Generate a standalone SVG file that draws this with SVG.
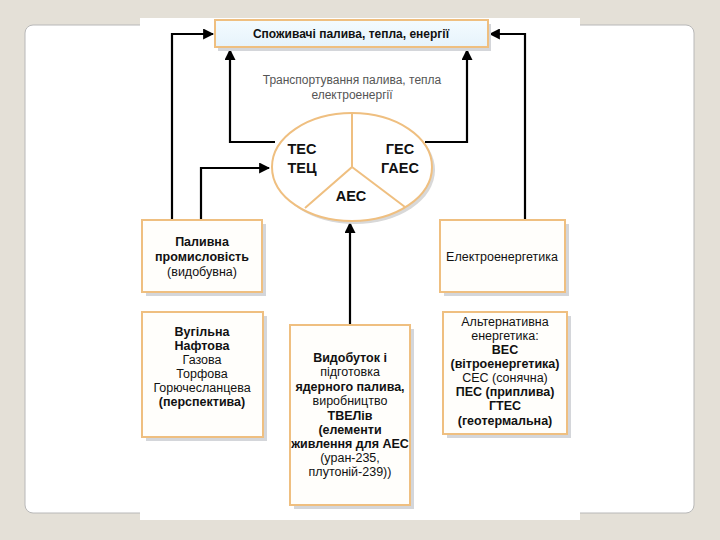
<svg xmlns="http://www.w3.org/2000/svg" width="720" height="540" viewBox="0 0 720 540">
<defs>
<style>
.t{font-family:"Liberation Sans",Arial,sans-serif;font-size:12.5px;fill:#111;text-anchor:middle}
.b{font-weight:bold}
.box{fill:#fffefb;stroke:#efbf80;stroke-width:2}
.sh{fill:#d4d6da}
.ln{fill:none;stroke:#000;stroke-width:2.2}
</style>
<marker id="ah" viewBox="0 0 10 10" refX="9" refY="5" markerWidth="5" markerHeight="5" orient="auto">
<path d="M0,0 L10,5 L0,10 z" fill="#000"/>
</marker>
<linearGradient id="tg" x1="0" y1="0" x2="0" y2="1">
<stop offset="0" stop-color="#f4fbff"/>
<stop offset="1" stop-color="#e6f3fb"/>
</linearGradient>
</defs>
<rect x="0" y="0" width="720" height="540" fill="#e4e0d7"/>
<rect x="25" y="25" width="669" height="488" rx="8" fill="#fff" stroke="#b8b8b8" stroke-width="1"/>
<rect x="140" y="18" width="440" height="502" fill="#fff"/>

<g id="connectors">
<polyline class="ln" points="172,220 172,34 213,34" marker-end="url(#ah)"/>
<polyline class="ln" points="525,220 525,34 490,34" marker-end="url(#ah)"/>
<polyline class="ln" points="275,142 230,142 230,50" marker-end="url(#ah)"/>
<polyline class="ln" points="425,142 467,142 467,50" marker-end="url(#ah)"/>
<polyline class="ln" points="201,220 201,168 269,168" marker-end="url(#ah)"/>
<polyline class="ln" points="350,325 350,223" marker-end="url(#ah)"/>
</g>

<g id="consumers">
<rect class="sh" x="218" y="24" width="273" height="27"/>
<rect x="215" y="20" width="273" height="27" fill="url(#tg)" stroke="#efbf80" stroke-width="2"/>
<text class="t b" x="351" y="37.5" style="font-size:12px">Споживачі палива, тепла, енергії</text>
</g>

<g id="transport">
<text class="t" x="352" y="84" style="font-size:12px;fill:#555">Транспортування палива, тепла</text>
<text class="t" x="352" y="99" style="font-size:12px;fill:#555">електроенергії</text>
</g>

<g id="plants">
<ellipse cx="355" cy="170" rx="80" ry="54" fill="#d8d8d8"/>
<ellipse cx="352" cy="167" rx="80" ry="54" fill="#fff" stroke="#efbf80" stroke-width="2"/>
<path d="M352,113 L352,167 L305,208 M352,167 L405,207" fill="none" stroke="#efbf80" stroke-width="2"/>
<text class="t b" x="302" y="154" style="font-size:14.5px">ТЕС</text>
<text class="t b" x="302" y="173" style="font-size:14.5px">ТЕЦ</text>
<text class="t b" x="400" y="154" style="font-size:14.5px">ГЕС</text>
<text class="t b" x="400" y="173" style="font-size:14.5px">ГАЕС</text>
<text class="t b" x="351" y="201" style="font-size:14.5px">АЕС</text>
</g>

<g id="fuel-industry">
<rect class="sh" x="146" y="224" width="120" height="72"/>
<rect class="box" x="142" y="220" width="120" height="72"/>
<text class="t b" x="202" y="246">Паливна</text>
<text class="t b" x="202" y="261">промисловість</text>
<text class="t" x="202" y="276">(видобувна)</text>
</g>

<g id="electro">
<rect class="sh" x="444" y="224" width="125" height="72"/>
<rect class="box" x="440" y="220" width="125" height="72"/>
<text class="t" x="502" y="261">Електроенергетика</text>
</g>

<g id="fuel-types">
<rect class="sh" x="146" y="316" width="121" height="125"/>
<rect class="box" x="142" y="312" width="121" height="125"/>
<text class="t b" x="202" y="336">Вугільна</text>
<text class="t b" x="202" y="350">Нафтова</text>
<text class="t" x="202" y="364">Газова</text>
<text class="t" x="202" y="378">Торфова</text>
<text class="t" x="202" y="392">Горючесланцева</text>
<text class="t b" x="202" y="406">(перспектива)</text>
</g>

<g id="nuclear-fuel">
<rect class="sh" x="294" y="329" width="120" height="180"/>
<rect class="box" x="290" y="325" width="120" height="180"/>
<text class="t b" x="350" y="362">Видобуток і</text>
<text class="t" x="350" y="376">підготовка</text>
<text class="t b" x="350" y="391">ядерного палива,</text>
<text class="t" x="350" y="405">виробництво</text>
<text class="t b" x="350" y="420">ТВЕЛів</text>
<text class="t b" x="350" y="434">(елементи</text>
<text class="t b" x="350" y="448">живлення для АЕС</text>
<text class="t" x="350" y="462">(уран-235,</text>
<text class="t" x="350" y="476">плутоній-239))</text>
</g>

<g id="alternative">
<rect class="sh" x="447" y="316" width="124" height="122"/>
<rect class="box" x="443" y="312" width="124" height="122"/>
<text class="t" x="505" y="326">Альтернативна</text>
<text class="t" x="505" y="340">енергетика:</text>
<text class="t b" x="505" y="354">ВЕС</text>
<text class="t b" x="505" y="368">(вітроенергетика)</text>
<text class="t" x="505" y="382">СЕС (сонячна)</text>
<text class="t b" x="505" y="396">ПЕС (приплива)</text>
<text class="t b" x="505" y="410">ГТЕС</text>
<text class="t b" x="505" y="425">(геотермальна)</text>
</g>
</svg>
